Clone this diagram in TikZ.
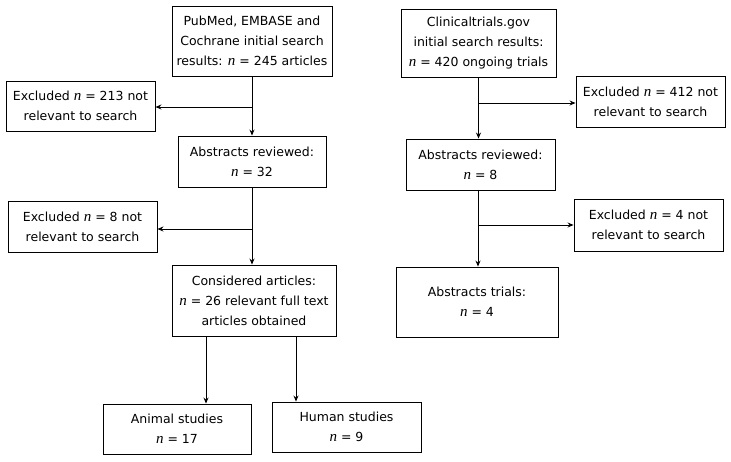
\documentclass[tikz,border=0pt]{standalone}
\usepackage{fontspec}
\setmainfont{DejaVu Sans}
\newfontfamily\serifit{Liberation Serif}[Scale=1.2]
\newcommand\nn{{\serifit\itshape n}}
\usetikzlibrary{arrows.meta,calc}
\begin{document}
\begin{tikzpicture}[x=1pt,y=-1pt,
  box/.style={draw,line width=0.9pt,inner sep=0pt,align=center,
    font=\fontsize{12.5}{20}\selectfont},
  arr/.style={line width=0.9pt,-{Stealth[length=6pt,width=5pt]}},
  ln/.style={line width=0.9pt}]
\useasboundingbox (0,0) rectangle (731,461);
\fill[white] (0,0) rectangle (731,461);
% left column
\node[box,minimum width=160pt,minimum height=70pt] (b1) at (252,41)
  {PubMed, EMBASE and\\Cochrane initial search\\results: \nn{} = 245 articles};
\node[box,minimum width=149pt,minimum height=50pt] (e213) at (80.5,106)
  {Excluded \nn{} = 213 not\\relevant to search};
\node[box,minimum width=148pt,minimum height=51pt] (a32) at (252,161.5)
  {Abstracts reviewed:\\\nn{} = 32};
\node[box,minimum width=149pt,minimum height=51pt] (e8) at (82.5,226.5)
  {Excluded \nn{} = 8 not\\relevant to search};
\node[box,minimum width=164pt,minimum height=71pt] (cons) at (254,300.5)
  {Considered articles:\\\nn{} = 26 relevant full text\\articles obtained};
\node[box,minimum width=148pt,minimum height=50pt] (an) at (177,429)
  {Animal studies\\\nn{} = 17};
\node[box,minimum width=149pt,minimum height=50pt] (hu) at (346.5,427)
  {Human studies\\\nn{} = 9};
% right column
\node[box,minimum width=155pt,minimum height=68pt] (cl) at (478.5,43)
  {Clinicaltrials.gov\\initial search results:\\\nn{} = 420 ongoing trials};
\node[box,minimum width=149pt,minimum height=51pt] (e412) at (650.5,101.5)
  {Excluded \nn{} = 412 not\\relevant to search};
\node[box,minimum width=149pt,minimum height=51pt] (a8) at (480.5,164.5)
  {Abstracts reviewed:\\\nn{} = 8};
\node[box,minimum width=149pt,minimum height=52pt] (e4) at (648.5,225)
  {Excluded \nn{} = 4 not\\relevant to search};
\node[box,minimum width=162pt,minimum height=70pt] (at) at (477,302)
  {Abstracts trials:\\\nn{} = 4};
% left connectors
\coordinate (j1) at (252,107);
\coordinate (j2) at (252,229);
\draw[arr] (b1) -- (a32);
\draw[arr] (j1) -- (j1 -| e213.east);
\draw[arr] (a32.south) -- (a32.south |- cons.north);
\draw[arr] (j2) -- (j2 -| e8.east);
\draw[arr] ([xshift=-48pt]cons.south) -- ([xshift=-48pt]cons.south |- an.north);
\draw[arr] ([xshift=42pt]cons.south) -- ([xshift=42pt]cons.south |- hu.north);
% right connectors
\coordinate (j3) at (478,103);
\coordinate (j4) at (478,225);
\draw[arr] (cl.south) -- (cl.south |- a8.north);
\draw[arr] (j3) -- (j3 -| e412.west);
\draw[arr] ([xshift=-2.5pt]a8.south) -- ([xshift=-2.5pt]a8.south |- at.north);
\draw[arr] (j4) -- (j4 -| e4.west);
\end{tikzpicture}
\end{document}
